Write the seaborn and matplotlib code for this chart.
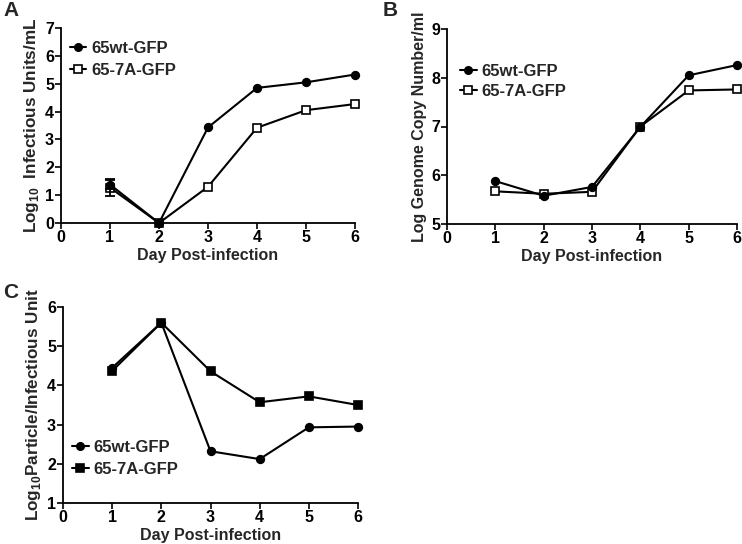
import numpy as np
import pandas as pd
import matplotlib
matplotlib.use("Agg")
import matplotlib.pyplot as plt
from matplotlib.lines import Line2D
import seaborn as sns

days = [1, 2, 3, 4, 5, 6]
series = ["65wt-GFP", "65-7A-GFP"]

# Panel A: Log10 infectious units/mL
a_wt = [1.38, 0.0, 3.43, 4.85, 5.05, 5.33]
a_7a = [1.27, 0.0, 1.30, 3.42, 4.05, 4.27]
a_wt_err = [0.15, 0.0, 0.0, 0.0, 0.0, 0.0]
a_7a_err = [0.30, 0.0, 0.0, 0.0, 0.0, 0.0]

# Panel B: Log genome copy number/ml
b_wt = [5.88, 5.58, 5.76, 6.99, 8.05, 8.26]
b_7a = [5.67, 5.62, 5.66, 7.00, 7.74, 7.76]

# Panel C: Log10 particle/infectious unit
c_wt = [4.45, 5.60, 2.32, 2.12, 2.93, 2.95]
c_7a = [4.37, 5.60, 4.36, 3.57, 3.72, 3.50]

sns.set_theme(style="ticks")
plt.rcParams["font.family"] = ["Liberation Sans", "DejaVu Sans"]
plt.rcParams["font.weight"] = "bold"
plt.rcParams["mathtext.fontset"] = "custom"
plt.rcParams["mathtext.rm"] = "Liberation Sans:bold"
plt.rcParams["mathtext.bf"] = "Liberation Sans:bold"

W, H = 742, 544
fig = plt.figure(figsize=(W / 100, H / 100), dpi=100)

MS_C = 5.5
MS_S = 6.0


def rect(l, t, r, b):
    return [l / W, 1 - b / H, (r - l) / W, (b - t) / H]


def make_df(wt, mt):
    return pd.DataFrame({
        "day": days * 2,
        "value": list(wt) + list(mt),
        "series": [series[0]] * len(days) + [series[1]] * len(days),
    })


def style_ax(ax, ylim, yticks, ylabel, ylsize=11.5):
    ax.set_xlim(0, 6)
    ax.set_ylim(*ylim)
    ax.set_xticks(range(0, 7))
    ax.set_yticks(yticks)
    sns.despine(ax=ax)
    for s in ["left", "bottom"]:
        ax.spines[s].set_linewidth(1.3)
        ax.spines[s].set_color("black")
    ax.tick_params(axis="both", length=4, width=1.2, colors="black",
                   labelsize=11.5, pad=1)
    for lab in ax.get_xticklabels() + ax.get_yticklabels():
        lab.set_fontweight("bold")
    ax.set_xlabel("Day Post-infection", fontsize=11.5, fontweight="bold",
                  labelpad=2)
    ax.set_ylabel(ylabel, fontsize=ylsize, fontweight="bold", labelpad=3)
    ax.set_facecolor("white")


def draw(ax, wt, mt, open_sq):
    df = make_df(wt, mt)
    sns.lineplot(data=df, x="day", y="value", hue="series", style="series",
                 markers={series[0]: "o", series[1]: "s"}, dashes=False,
                 palette={series[0]: "black", series[1]: "black"},
                 linewidth=1.5, markersize=MS_S, ax=ax, legend=False)
    lines = ax.get_lines()
    for ln in lines:
        ln.set_markeredgecolor("black")
        ln.set_markeredgewidth(1.2)
        ln.set_clip_on(False)
    if open_sq:
        lines[1].set_markerfacecolor("white")
    lines[1].set_zorder(3)
    lines[0].set_markersize(MS_C)
    lines[0].set_zorder(4)


def add_legend(ax, open_sq, bbox, spacing=0.3):
    handles = [
        Line2D([], [], color="black", marker="o", markersize=MS_C, lw=1.5,
               markeredgecolor="black"),
        Line2D([], [], color="black", marker="s", markersize=MS_S, lw=1.5,
               markerfacecolor="white" if open_sq else "black",
               markeredgecolor="black", markeredgewidth=1.2),
    ]
    ax.legend(handles, series, loc="upper left", bbox_to_anchor=bbox,
              frameon=False, prop={"weight": "bold", "size": 12},
              handlelength=1.0, handletextpad=0.3, labelspacing=spacing,
              borderaxespad=0, borderpad=0)


# Panel A
axA = fig.add_axes(rect(61, 28, 355, 223))
draw(axA, a_wt, a_7a, True)
for vals, err in [(a_wt, a_wt_err), (a_7a, a_7a_err)]:
    idx = [i for i, e in enumerate(err) if e > 0]
    axA.errorbar([days[i] for i in idx], [vals[i] for i in idx],
                 yerr=[err[i] for i in idx], fmt="none", ecolor="black",
                 elinewidth=1.3, capsize=3.5, capthick=1.3, zorder=5)
style_ax(axA, (0, 7), range(0, 8),
         r"Log$_{\mathbf{10}}$  Infectious Units/mL", ylsize=12.3)
add_legend(axA, True, (0.03, 0.935), spacing=0.45)

# Panel B
axB = fig.add_axes(rect(447, 29, 737, 224))
draw(axB, b_wt, b_7a, True)
style_ax(axB, (5, 9), range(5, 10), "Log Genome Copy Number/ml")
add_legend(axB, True, (0.045, 0.82), spacing=0.3)

# Panel C
axC = fig.add_axes(rect(63, 307, 358, 503))
draw(axC, c_wt, c_7a, False)
style_ax(axC, (1, 6), range(1, 7),
         r"Log$_{\mathbf{10}}$Particle/Infectious Unit", ylsize=12.3)
add_legend(axC, False, (0.03, 0.32), spacing=0.4)

fig.text(3 / W, 1 - 1 / H, "A", fontsize=15, fontweight="bold", va="top")
fig.text(383 / W, 1 - 1 / H, "B", fontsize=15, fontweight="bold", va="top")
fig.text(3 / W, 1 - 283 / H, "C", fontsize=15, fontweight="bold", va="top")

fig.savefig("out.png", dpi=100, facecolor="white")
